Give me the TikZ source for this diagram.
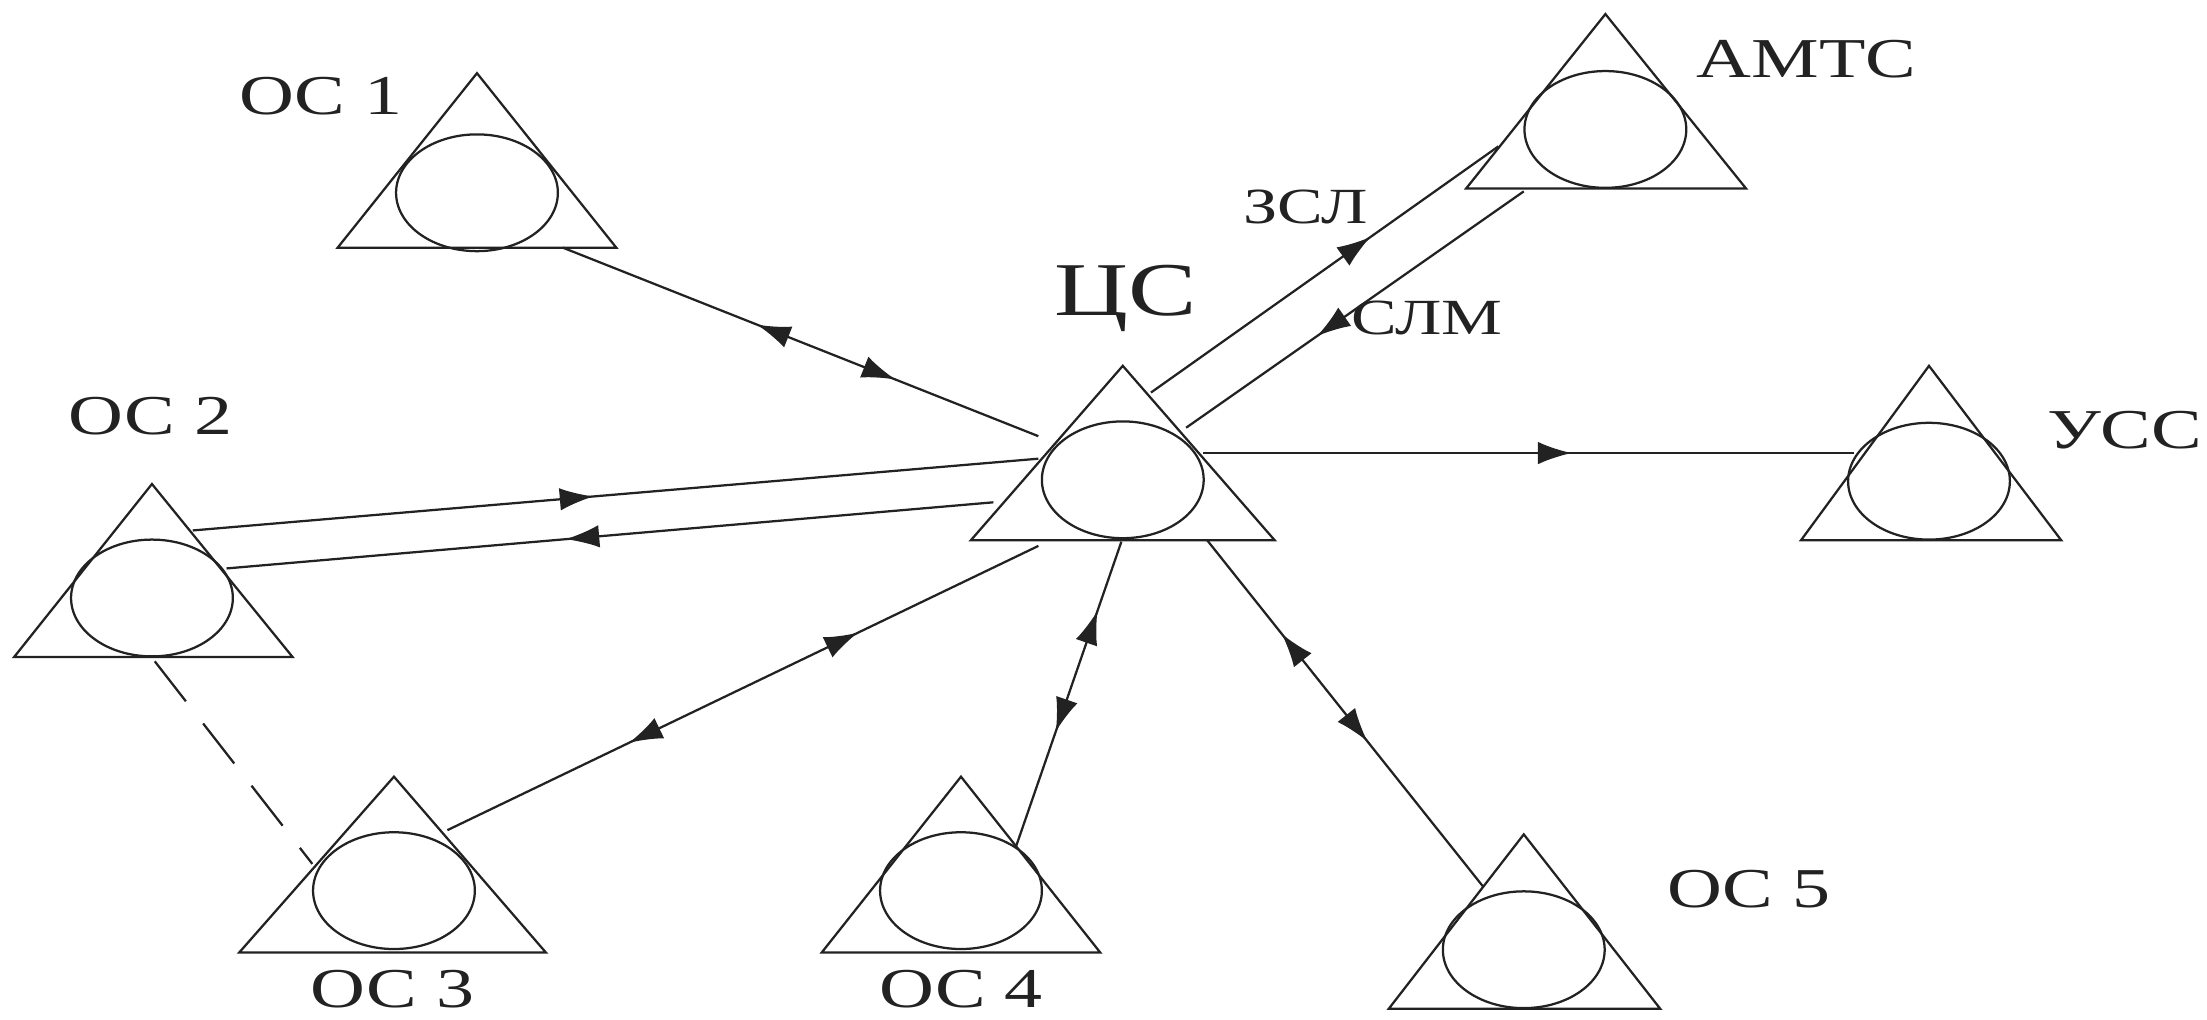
\documentclass[tikz,border=0pt]{standalone}
\usepackage{fontspec}
\setmainfont[FakeStretch=1.35]{Liberation Serif}
\usetikzlibrary{arrows.meta,decorations.markings,shapes.geometric}
\definecolor{ink}{HTML}{222222}
\tikzset{
  headtip/.tip={Latex[length=12pt,width=8pt]},
  link/.style={draw=ink,line width=0.8pt},
  biway/.style 2 args={link,postaction={decorate},decoration={markings,
    mark=at position #1 with {\arrowreversed[ink]{headtip}},
    mark=at position #2 with {\arrow[ink]{headtip}}}},
  oneway/.style={link,postaction={decorate},decoration={markings,
    mark=at position #1 with {\arrow[ink]{headtip}}}},
  dashlink/.style={link,dash pattern=on 18pt off 10pt},
  hub/.style={ellipse,draw=ink,line width=0.8pt,minimum width=57.5pt,minimum height=41.5pt,inner sep=0pt},
  tri/.style={draw=ink,line width=0.8pt,line join=miter},
  lblA/.style={text=ink,font=\fontsize{20}{21}\selectfont,inner sep=0pt},
  lblB/.style={text=ink,font=\fontsize{18}{20}\selectfont,inner sep=0pt},
  lblC/.style={text=ink,font=\fontsize{27}{30}\selectfont,inner sep=0pt}
}
\newcommand{\station}[7]{%
  \node[hub] (#1) at (#2,#3) {};
  \draw[tri] (#6,#5) -- (#2,#4) -- (#7,#5) -- cycle;
}
\begin{document}
\begin{tikzpicture}[x=0.5pt,y=-0.5pt]
\useasboundingbox (0,0) rectangle (1568.6,724.7);
% stations: name, cx, cy, apex y, base y, left x, right x
\station{osa}{339}{137}{52}{176}{240}{438}
\station{amts}{1141}{92}{10}{134}{1042}{1241}
\station{cs}{798}{341}{260}{384}{690}{906}
\station{uss}{1371}{342}{260}{384}{1280}{1465}
\station{osb}{108}{425}{344}{467}{10}{208}
\station{osc}{280}{633}{552}{677}{170}{388}
\station{osd}{683}{633}{552}{677}{584}{782}
\station{ose}{1083}{675}{593}{717}{987}{1180}
% connectors
\path[biway={0.408}{0.70}] ([shift={(61,39)}]osa.center) -- ([shift={(-60,-31)}]cs.center);
\path[oneway=0.632] ([shift={(20,-62)}]cs.center) -- ([shift={(-76,12)}]amts.center);
\path[oneway=0.6125] ([shift={(-58,44)}]amts.center) -- ([shift={(45,-37)}]cs.center);
\path[oneway=0.566] ([shift={(57,-19)}]cs.center) -- ([shift={(-53,-20)}]uss.center);
\path[oneway=0.474] ([shift={(29,-48)}]osb.center) -- ([shift={(-60,-15)}]cs.center);
\path[oneway=0.558] ([shift={(-92,16)}]cs.center) -- ([shift={(53,-21)}]osb.center);
\path[biway={0.307}{0.695}] ([shift={(38,-43)}]osc.center) -- ([shift={(-60,47)}]cs.center);
\path[biway={0.378}{0.774}] ([shift={(39,-31)}]osd.center) -- ([shift={(-1,44)}]cs.center);
\path[biway={0.419}{0.73}] ([shift={(-29,-45)}]ose.center) -- ([shift={(60,43)}]cs.center);
\path[dashlink] ([shift={(2,45)}]osb.center) -- ([shift={(-58,-19)}]osc.center);
% labels
\node[lblA] (tosa) at (228,68) {ОС 1};
\node[lblA] (tamts) at (1284,42) {АМТС};
\node[lblB] (tzsl) at (928,147) {ЗСЛ};
\node[lblC] (tcs) at (800,212) {ЦС};
\node[lblB] (tslm) at (1014,226) {СЛМ};
\node[lblA] (tuss) at (1510,306) {УСС};
\node[lblA] (tosb) at (107,296) {ОС 2};
\node[lblA] (tosc) at (279,703) {ОС 3};
\node[lblA] (tosd) at (683,703) {ОС 4};
\node[lblA] (tose) at (1243,632) {ОС 5};
\end{tikzpicture}
\end{document}
